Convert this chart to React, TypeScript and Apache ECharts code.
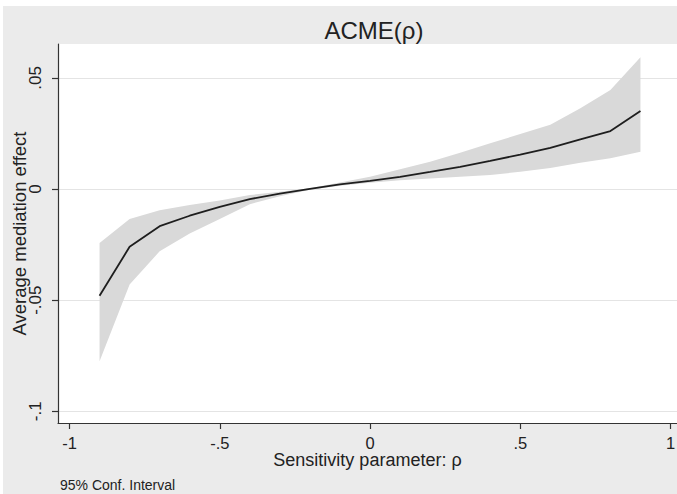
import React, { useEffect, useRef } from "react";
import * as echarts from "echarts";

const rho = [-0.9, -0.8, -0.7, -0.6, -0.5, -0.4, -0.3, -0.2, -0.1, 0, 0.1, 0.2, 0.3, 0.4, 0.5, 0.6, 0.7, 0.8, 0.9];
const acme = [-0.048, -0.026, -0.0167, -0.012, -0.008, -0.0045, -0.0021, 0.0001, 0.0021, 0.0037, 0.0055, 0.0077, 0.01, 0.0127, 0.0155, 0.0185, 0.0224, 0.0261, 0.0351];
const upper = [-0.0243, -0.0135, -0.0095, -0.0072, -0.0052, -0.0027, -0.0012, 0.0004, 0.003, 0.0055, 0.0089, 0.0123, 0.0163, 0.0206, 0.0248, 0.029, 0.0364, 0.0446, 0.0593];
const lower = [-0.0775, -0.043, -0.028, -0.02, -0.0135, -0.0068, -0.0032, -0.0003, 0.0015, 0.0028, 0.004, 0.0048, 0.0055, 0.0063, 0.0078, 0.0095, 0.0118, 0.0139, 0.0168];
const xTicks = [-1, -0.5, 0, 0.5, 1];
const yTicks = [-0.1, -0.05, 0, 0.05];

const FONT = "'Liberation Sans', Arial, Helvetica, sans-serif";

function fmt(v: number): string {
  if (v === 0) return "0";
  return String(v).replace("0.", ".");
}

export default function App() {
  const ref = useRef<HTMLDivElement>(null);
  useEffect(() => {
    if (!ref.current) return;
    const chart = echarts.init(ref.current, null, { renderer: "svg" });
    const bandData = rho.map((x, i) => [x, lower[i], upper[i]]);
    const meanData = rho.map((x, i) => [x, acme[i]]);
    chart.setOption({
      animation: false,
      backgroundColor: "#ebebeb",
      title: {
        text: "ACME(ρ)",
        left: 366,
        top: 7,
        textAlign: "center",
        textStyle: { fontFamily: FONT, fontSize: 24, fontWeight: "normal", color: "#222" },
      },
      grid: {
        left: 55,
        top: 38,
        right: 0,
        bottom: 71,
        show: true,
        backgroundColor: "#ffffff",
        borderWidth: 0,
        containLabel: false,
        outerBoundsMode: "none",
      },
      xAxis: {
        type: "value",
        min: -1.0383,
        max: 1.0216,
        name: "Sensitivity parameter: ρ",
        nameLocation: "middle",
        nameGap: 28,
        nameMoveOverlap: false,
        nameTextStyle: { fontFamily: FONT, fontSize: 18, color: "#222" },
        axisLine: { show: true, onZero: false, lineStyle: { color: "#333", width: 1.2 } },
        axisTick: { show: true, length: 6, lineStyle: { color: "#333", width: 1.2 }, customValues: xTicks },
        axisLabel: {
          customValues: xTicks,
          formatter: (v: number) => fmt(v),
          fontFamily: FONT,
          fontSize: 16.5,
          color: "#222",
          margin: 11,
        },
        splitLine: { show: false },
      },
      yAxis: {
        type: "value",
        min: -0.1053,
        max: 0.0653,
        name: "Average mediation effect",
        nameLocation: "middle",
        nameGap: 29,
        nameMoveOverlap: false,
        nameTextStyle: { fontFamily: FONT, fontSize: 18.5, color: "#222" },
        axisLine: { show: true, onZero: false, lineStyle: { color: "#333", width: 1.2 } },
        axisTick: { show: true, length: 6, lineStyle: { color: "#333", width: 1.2 }, customValues: yTicks },
        axisLabel: {
          customValues: yTicks,
          formatter: (v: number) => fmt(v),
          rotate: 90,
          fontFamily: FONT,
          fontSize: 17,
          color: "#222",
          margin: 14,
        },
        splitLine: { show: true, lineStyle: { color: "#e4e4e4", width: 1 } },
      },
      graphic: [
        {
          type: "text",
          left: 57,
          top: 472,
          style: { text: "95% Conf. Interval", font: `14px ${FONT}`, fill: "#222" },
        },
      ],
      series: [
        {
          type: "custom",
          data: bandData,
          silent: true,
          encode: { x: 0, y: [1, 2] },
          renderItem: (params: any, api: any) => {
            if (params.dataIndex !== 0) return null;
            const pts: number[][] = [];
            for (let i = 0; i < bandData.length; i++) pts.push(api.coord([bandData[i][0], bandData[i][2]]));
            for (let i = bandData.length - 1; i >= 0; i--) pts.push(api.coord([bandData[i][0], bandData[i][1]]));
            return {
              type: "polygon",
              shape: { points: pts },
              style: { fill: "#d9d9d9", stroke: "none" },
            };
          },
        },
        {
          type: "line",
          data: meanData,
          symbol: "none",
          lineStyle: { color: "#1e1e1e", width: 1.8 },
        },
      ],
    });
    return () => chart.dispose();
  }, []);
  return (
    <div style={{ position: "fixed", left: 0, top: 0, width: 677, height: 494, background: "#ffffff" }}>
      <div ref={ref} style={{ position: "absolute", left: 3, top: 6, width: 674, height: 488 }} />
    </div>
  );
}
